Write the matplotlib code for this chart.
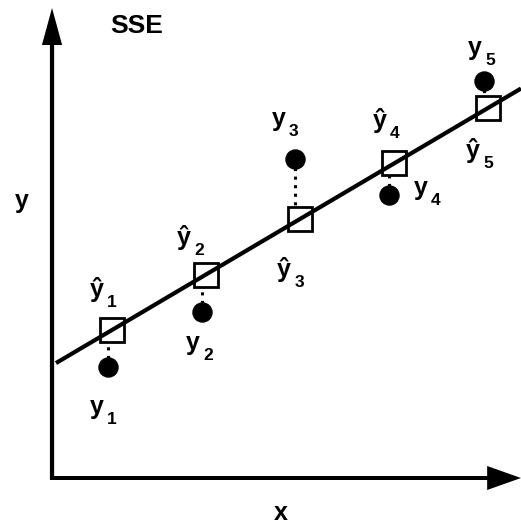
import matplotlib
matplotlib.use("Agg")
import matplotlib.pyplot as plt
import numpy as np

# Observed points, fitted values and the regression line
x_fit = [1, 2, 3, 4, 5]
x_obs = [0.96, 1.96, 2.95, 3.95, 4.96]
y_obs = [2.22, 3.32, 6.38, 5.66, 7.94]
intercept = 1.85
slope = 1.11
line_x = [0.404, 5.351]
index_labels = ["1", "2", "3", "4", "5"]
title_text = "SSE"
x_name = "x"
y_name = "y"

# label placement relative to each mark, in pixels (right, down)
obs_offsets = [(-11, 47), (-9, 38), (-17, -33), (31, 0), (-9, -26)]
fit_offsets = [(-15, -33), (-22, -29.5), (-16, 58), (-14, -35.5), (-15, 50)]

FONT = "Liberation Sans"
PX2PT = 0.72

fig = plt.figure(figsize=(5.21, 5.25), dpi=100)
ax = fig.add_axes([0, 0, 1, 1])
ax.set_xlim(-0.1915, 5.3511)
ax.set_ylim(-0.94, 9.56)
ax.axis("off")

# coordinate axes drawn as arrows
x0, y0 = 0.362, 0.0
ax.arrow(x0, y0 - 0.04, 0, 9.44, width=0.045, head_width=0.215, head_length=0.74,
         length_includes_head=True, color="black", lw=0, zorder=5)
ax.arrow(x0 - 0.021, y0, 5.351 - x0 + 0.021, 0, width=0.08, head_width=0.48,
         head_length=0.36, length_includes_head=True, color="black", lw=0, zorder=5)

# regression line
lx = np.array(line_x)
ax.plot(lx, intercept + slope * lx, color="black", lw=3.0, solid_capstyle="butt", zorder=3)

# residuals
for xo, yo in zip(x_obs, y_obs):
    ax.plot([xo, xo], [yo, intercept + slope * xo], color="black", lw=2.2,
            ls=(0, (1, 1.8)), zorder=1)

# fitted values
xf = np.array(x_fit, dtype=float)
yhat = intercept + slope * xf
ax.plot(xf, yhat, ls="none", marker="s", ms=17.5, mfc="white", mec="black", mew=2.0, zorder=2)

# observations
ax.plot(x_obs, y_obs, ls="none", marker="o", ms=13.7, color="black", zorder=4)


def label(xy, off, main, sub):
    dx, dy = off
    ax.annotate(main, xy=xy, xytext=(dx * PX2PT, -dy * PX2PT), textcoords="offset points",
                ha="center", va="baseline", fontsize=18, fontweight="bold",
                family=FONT, zorder=6)
    ax.annotate(sub, xy=xy, xytext=((dx + 15) * PX2PT, -(dy + 10) * PX2PT),
                textcoords="offset points", ha="center", va="baseline", fontsize=12.5,
                fontweight="bold", family=FONT, zorder=6)


for i, lab in enumerate(index_labels):
    label((x_obs[i], y_obs[i]), obs_offsets[i], "y", lab)
    label((xf[i], yhat[i]), fit_offsets[i], "\u0177", lab)

ax.text(1.266, 8.9, title_text, ha="center", va="baseline", fontsize=19,
        fontweight="bold", family=FONT)
ax.text(0.037, 5.4, y_name, ha="center", va="baseline", fontsize=18,
        fontweight="bold", family=FONT)
ax.text(2.798, -0.84, x_name, ha="center", va="baseline", fontsize=18,
        fontweight="bold", family=FONT)

fig.savefig("out.png", dpi=100)
